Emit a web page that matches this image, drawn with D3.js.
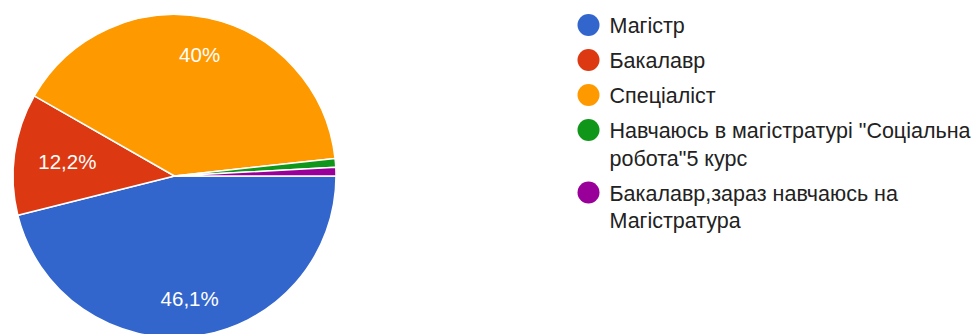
<!DOCTYPE html>
<html>
<head>
<meta charset="utf-8">
<script src="https://cdn.jsdelivr.net/npm/d3@7"></script>
<style>
  html, body { margin: 0; padding: 0; background: #fff; }
  svg { display: block; }
</style>
</head>
<body>
<svg id="chart" width="976" height="334"></svg>
<script>
// Responses by degree (count of respondents)
const categories = [
  "Магістр",
  "Бакалавр",
  "Спеціаліст",
  "Навчаюсь в магістратурі \"Соціальна робота\"5 курс",
  "Бакалавр,зараз навчаюсь на Магістратура"
];
const counts = [53, 14, 46, 1, 1];
const colors = ["#3366cc", "#dc3912", "#ff9900", "#109618", "#990099"];
// Legend entries wrapped onto lines
const legendLines = [
  ["Магістр"],
  ["Бакалавр"],
  ["Спеціаліст"],
  ["Навчаюсь в магістратурі \"Соціальна", "робота\"5 курс"],
  ["Бакалавр,зараз навчаюсь на", "Магістратура"]
];

const svg = d3.select("#chart");

const cx = 174.5, cy = 176, radius = 161.5;
const total = d3.sum(counts);

// Slices start at 3 o'clock and run clockwise
const pie = d3.pie()
  .sort(null)
  .value(d => d)
  .startAngle(Math.PI / 2)
  .endAngle(Math.PI / 2 + 2 * Math.PI);

const arcs = pie(counts);
const arc = d3.arc().innerRadius(0).outerRadius(radius);

const g = svg.append("g").attr("transform", `translate(${cx},${cy})`);

g.selectAll("path.slice")
  .data(arcs)
  .join("path")
  .attr("class", "slice")
  .attr("d", arc)
  .attr("fill", (d, i) => colors[i])
  .attr("stroke", "#fff")
  .attr("stroke-width", 1.5)
  .attr("stroke-linejoin", "round");

// Percentage labels (Ukrainian decimal comma), hidden for tiny slices
const fmt = v => {
  const p = v / total * 100;
  const r = Math.round(p * 10) / 10;
  return (Number.isInteger(r) ? r.toFixed(0) : r.toFixed(1)).replace(".", ",") + "%";
};

g.selectAll("text.pct")
  .data(arcs.filter(d => d.value / total >= 0.05))
  .join("text")
  .attr("class", "pct")
  .attr("transform", d => {
    const share = d.value / total;
    const lr = radius * (share < 0.15 ? 0.67 : 0.765);
    const a = (d.startAngle + d.endAngle) / 2;
    return `translate(${Math.sin(a) * lr},${-Math.cos(a) * lr})`;
  })
  .attr("text-anchor", "middle")
  .attr("dy", "0.36em")
  .attr("fill", "#fff")
  .attr("font-family", "Arial, 'Liberation Sans', sans-serif")
  .attr("font-size", 20.5)
  .text(d => fmt(d.value));

// Legend
const legend = svg.append("g").attr("transform", "translate(588.5,0)");
const lineH = 27.5;
const itemGap = 35;
let y = 33;
legendLines.forEach((lines, i) => {
  const item = legend.append("g");
  item.append("circle")
    .attr("cx", 0)
    .attr("cy", y - 8)
    .attr("r", 11)
    .attr("fill", colors[i]);
  const t = item.append("text")
    .attr("x", 21)
    .attr("y", y)
    .attr("fill", "#222")
    .attr("font-family", "Arial, 'Liberation Sans', sans-serif")
    .attr("font-size", 21.5);
  lines.forEach((ln, j) => {
    t.append("tspan")
      .attr("x", 21)
      .attr("y", y + j * lineH)
      .text(ln);
  });
  y += (lines.length - 1) * lineH + itemGap;
});
</script>
</body>
</html>
